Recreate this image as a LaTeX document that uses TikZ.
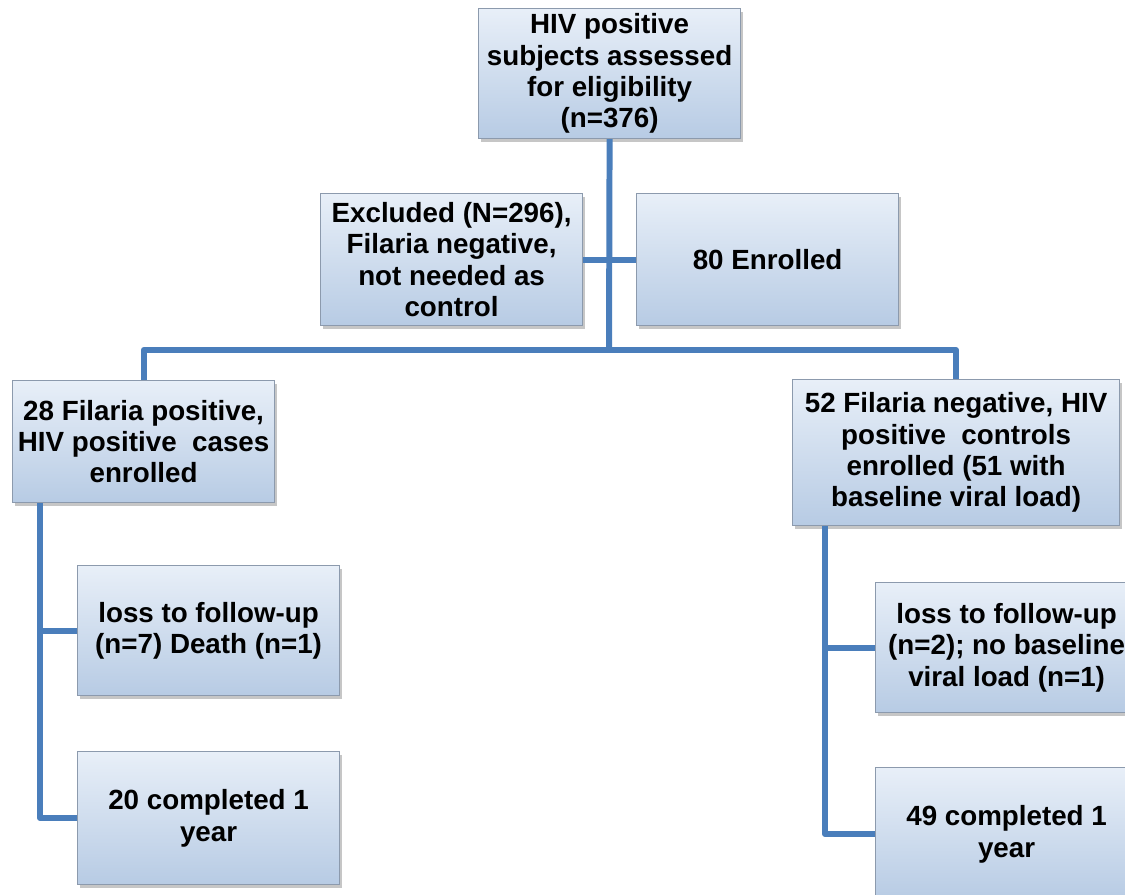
\documentclass[tikz,border=0pt]{standalone}
\usepackage{fontspec}
\setmainfont{Liberation Sans}
\usetikzlibrary{shadows, positioning}

\definecolor{boxtop}{HTML}{E8EFF8}
\definecolor{boxbot}{HTML}{B7CBE4}
\definecolor{boxline}{HTML}{8C9AAD}
\definecolor{linkblue}{HTML}{4A7EBB}

\begin{document}
\begin{tikzpicture}[x=0.02cm, y=-0.02cm]
	\tikzset{box/.style={draw=boxline, line width=0.7pt, top color=boxtop, bottom color=boxbot, anchor=north west, inner sep=0pt, align=center, minimum width=5.24cm, minimum height=2.6cm, font=\fontsize{15.8}{17.9}\selectfont\bfseries, drop shadow={opacity=0.45, shadow xshift=1.5pt, shadow yshift=-2.2pt}}, link/.style={draw=linkblue, line width=3.4pt, line join=round}}
	
	\useasboundingbox (0,0) rectangle (1125,895);
	\clip (0,0) rectangle (1125,895);
	
	\node[box] (assess) at (478,8) {HIV positive\\subjects assessed\\for eligibility\\(n=376)};
	\node[box, minimum height=2.64cm] (excl) at (320,193) {Excluded (N=296),\\Filaria negative,\\not needed as\\control};
	\node[box, minimum height=2.64cm] (enrol) at (636,193) {80 Enrolled};
	\node[box, minimum height=2.44cm] (cases) at (12,380) {28 Filaria positive,\\HIV positive\ \ cases\\enrolled};
	\node[box, minimum width=6.54cm, minimum height=2.92cm] (ctrls) at (792,379) {52 Filaria negative, HIV\\positive\ \ controls\\enrolled (51 with\\baseline viral load)};
	\node[box] (lossa) at (77,565) {loss to follow-up\\(n=7) Death (n=1)};
	\node[box, minimum height=2.66cm] (donea) at (77,751) {20 completed 1\\year};
	\node[box] (lossb) at (875,582) {loss to follow-up\\(n=2); no baseline\\viral load (n=1)};
	\node[box, minimum height=2.66cm] (doneb) at (875,767) {49 completed 1\\year};
	
	\coordinate (split) at (609,350);
	\coordinate (lspine) at (40,0);
	\coordinate (rspine) at (825,0);
	
	\draw[link] (assess.south) -- (split);
	\draw[link] (excl.east) -- (enrol.west);
	\draw[link] (cases.north) |- (split) -| (ctrls.north);
	\draw[link] (cases.south -| lspine) |- (donea.west);
	\draw[link] (lspine |- lossa.west) -- (lossa.west);
	\draw[link] (ctrls.south -| rspine) |- (doneb.west);
	\draw[link] (rspine |- lossb.west) -- (lossb.west);
\end{tikzpicture}
\end{document}
